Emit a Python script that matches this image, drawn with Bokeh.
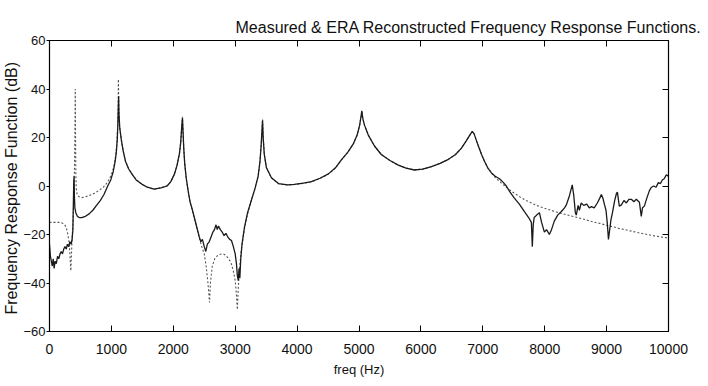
from bokeh.plotting import figure
from bokeh.models import Range1d, LinearAxis, SingleIntervalTicker, CustomJSTickFormatter
from bokeh.embed import file_html
from bokeh.resources import INLINE

# ---------------- data ----------------
freq_meas = [0, 15, 30, 45, 60, 75, 90, 110, 130, 150, 170, 190, 210, 230, 250, 270, 290, 310, 330, 350,
             365, 378, 385, 392, 397, 402, 410, 425, 450, 480, 520, 580, 640, 700, 760, 820, 880, 940, 990,
             1030, 1060, 1080, 1095, 1105, 1112, 1117, 1122, 1135, 1160, 1190, 1230, 1280, 1330, 1400, 1490,
             1580, 1690, 1800, 1900, 1960, 2020, 2060, 2100, 2120, 2135, 2148, 2158, 2170, 2185, 2210, 2240,
             2270, 2300, 2340, 2380, 2420, 2445, 2470, 2500, 2525, 2550, 2580, 2610, 2640, 2665, 2690, 2710,
             2730, 2760, 2790, 2820, 2850, 2880, 2910, 2940, 2970, 3000, 3020, 3035, 3050, 3062, 3075, 3090,
             3110, 3150, 3200, 3260, 3320, 3370, 3400, 3420, 3435, 3442, 3452, 3470, 3505, 3585, 3700, 3850,
             3955, 4100, 4230, 4370, 4505, 4620, 4715, 4820, 4910, 4970, 5010, 5035, 5045, 5060, 5090, 5150,
             5250, 5360, 5500, 5635, 5760, 5895, 6030, 6170, 6310, 6445, 6560, 6655, 6730, 6790, 6830, 6860,
             6900, 6930, 6980, 7025, 7080, 7140, 7200, 7270, 7330, 7380, 7440, 7510, 7590, 7670, 7740, 7785,
             7800, 7815, 7830, 7870, 7915, 7950, 7995, 8030, 8075, 8110, 8155, 8210, 8270, 8320, 8350, 8400,
             8445, 8470, 8495, 8510, 8540, 8560, 8590, 8630, 8680, 8720, 8755, 8800, 8850, 8890, 8915, 8940,
             8965, 8990, 9010, 9030, 9045, 9070, 9095, 9130, 9160, 9175, 9205, 9240, 9280, 9320, 9360, 9400,
             9440, 9480, 9530, 9560, 9580, 9610, 9650, 9690, 9720, 9760, 9800, 9835, 9870, 9900, 9930, 9965,
             10000]
db_meas = [-24, -29, -31, -33, -30, -34, -31, -32, -29, -30, -28, -27, -28, -26, -25, -26, -24, -25, -23, -24,
           -22, -18, -8, 2, 4, -4, -9, -11, -12.5, -13, -13, -12.5, -11.5, -10, -8, -6, -3.5, 0, 2.5,
           6, 10, 14, 19, 26, 33, 37, 30, 24, 19, 14.5, 10, 7, 5, 2.5, 0.8,
           -0.5, -1.3, -0.8, 0, 1.8, 5, 8.5, 13.5, 18, 24, 28, 22, 15, 9, 3, -2,
           -6.5, -9, -13, -17, -21, -23, -22, -25, -27, -24, -23, -21, -19, -18, -16, -18,
           -16.5, -18, -19, -20.5, -19.5, -21, -22, -22.5, -25, -28, -32, -37, -39, -34, -38, -30,
           -24, -17, -11, -6, -1, 4, 10, 17, 24, 27, 20, 13, 7.5, 3.4, 1, 0.5,
           0.7, 1.2, 1.8, 3.2, 5, 7.5, 10.8, 14, 17.5, 21, 25, 29, 31, 28, 25, 21,
           16.5, 13, 10.5, 8.6, 7.4, 6.6, 7, 8, 9.3, 11, 13, 15.6, 18.5, 21, 22.5, 21.5,
           18.5, 16.4, 13, 10.3, 7.5, 5.4, 4, 3, 1.5, 0, -2.5, -5, -7.5, -10.5, -13, -15,
           -25, -16, -13, -12, -11, -15, -19, -18, -20, -18, -14.5, -12, -10.5, -9, -7.8, -4,
           0.5, -4, -11, -12, -8, -10, -7, -8, -7.5, -9, -8.5, -9, -7, -5, -3.5, -5,
           -7.6, -10, -15, -22, -19, -14, -11, -6, -3, -2.6, -8.3, -7.8, -6, -7, -5.5, -5.5,
           -6.5, -5.5, -6.7, -12.5, -9, -8.3, -5, -2, -0.6, 0, -0.5, 1.4, 1, 2.5, 3, 4.6,
           4]

freq_era = [0, 50, 100, 150, 200, 240, 265, 285, 300, 315, 328, 338, 345, 352, 365, 380, 392, 402, 410,
            416, 421, 426, 432, 445, 480, 520, 580, 650, 727, 800, 870, 920, 970, 1010, 1040, 1065, 1085,
            1100, 1108, 1113, 1120, 1130, 1150, 1163, 1190, 1230, 1280, 1330, 1400, 1490, 1580, 1690, 1800,
            1900, 1960, 2020, 2060, 2100, 2120, 2135, 2148, 2158, 2170, 2185, 2210, 2240, 2270, 2300, 2340,
            2380, 2420, 2460, 2500, 2530, 2560, 2585, 2600, 2630, 2670, 2720, 2780, 2830, 2880, 2930, 2970,
            3000, 3020, 3035, 3050, 3070, 3100, 3150, 3200, 3260, 3320, 3370, 3400, 3420, 3435, 3442, 3452,
            3470, 3505, 3585, 3700, 3850, 3955, 4100, 4230, 4370, 4505, 4620, 4715, 4820, 4910, 4970, 5010,
            5035, 5045, 5060, 5090, 5150, 5250, 5360, 5500, 5635, 5760, 5895, 6030, 6170, 6310, 6445, 6560,
            6655, 6730, 6790, 6830, 6860, 6900, 6930, 6980, 7025, 7080, 7140, 7200, 7300, 7400, 7500, 7600,
            7700, 7800, 7900, 8000, 8100, 8200, 8300, 8400, 8500, 8600, 8700, 8800, 8900, 9000, 9100, 9200,
            9300, 9400, 9500, 9600, 9700, 9800, 9900, 10000]
db_era = [-15, -15, -15, -15, -15.2, -15.8, -16.8, -18.5, -20.5, -23, -27, -32, -35, -30, -22, -14, -5, 5, 20,
          40, 20, 5, -1, -3.5, -4.5, -4.8, -4.5, -3.8, -3, -1.8, -0.5, 1, 3, 5.5, 8, 12, 17,
          24, 32, 44, 32, 25, 21, 19, 14.5, 10, 7, 5, 2.6, 0.8, -0.5, -1.3, -0.8,
          0.2, 1.8, 5, 8.5, 13.5, 18, 24, 28.5, 22, 15, 9, 3, -2, -6.5, -9.5, -13.5,
          -17.5, -21.5, -25, -28, -33, -40, -48, -40, -33, -30, -28.5, -28, -28.3, -29.5, -31.5, -35,
          -39, -45, -51, -42, -34, -26, -17.5, -11.5, -6, -1, 4, 10, 17, 24, 27.5, 20,
          13, 7.5, 3.3, 0.9, 0.4, 0.6, 1.1, 1.7, 3.1, 4.9, 7.4, 10.7, 13.9, 17.4, 21, 25,
          29, 31, 28, 25, 21, 16.5, 13, 10.5, 8.6, 7.4, 6.6, 7, 8, 9.3, 11, 13,
          15.6, 18.5, 21, 22.5, 21.5, 18.5, 16.4, 13, 10.3, 7.5, 5.4, 3.5, 1.2, -1, -2.8, -4.5,
          -6, -7.2, -8.3, -9.2, -10, -10.8, -11.5, -12.2, -12.8, -13.5, -14.2, -14.9, -15.5, -16.2, -16.8, -17.5,
          -18, -18.6, -19.2, -19.7, -20.2, -20.7, -21.1, -21.5]

x_ticks_interval = 1000
y_ticks_interval = 20

# ---------------- figure ----------------
FONT = "Liberation Sans"

p = figure(frame_width=619, frame_height=291, output_backend="svg", toolbar_location=None,
           x_range=Range1d(0, 10000), y_range=Range1d(-60, 60),
           min_border_left=40, min_border_right=33, min_border_top=40, min_border_bottom=46,
           x_axis_label="freq (Hz)", y_axis_label="Frequency Response  Function (dB)")

p.title.text = "Measured & ERA Reconstructed Frequency Response Functions."
p.title.align = "left"
p.title.offset = 186
p.title.text_font = FONT
p.title.text_font_style = "normal"
p.title.text_font_size = "16px"
p.title.text_color = "#111111"

p.xgrid.visible = False
p.ygrid.visible = False
p.outline_line_color = "black"
p.outline_line_alpha = 1
p.outline_line_width = 1.2
p.background_fill_color = "white"
p.border_fill_color = "white"

xt = SingleIntervalTicker(interval=x_ticks_interval, num_minor_ticks=0)
yt = SingleIntervalTicker(interval=y_ticks_interval, num_minor_ticks=0)

xa = p.xaxis[0]
xa.ticker = xt
xa.major_tick_in = 6
xa.major_tick_out = 0
xa.minor_tick_in = 0
xa.minor_tick_out = 0
xa.axis_line_color = "black"
xa.major_tick_line_color = "black"
xa.major_label_text_font = FONT
xa.major_label_text_font_size = "14px"
xa.major_label_text_color = "#111111"
xa.major_label_standoff = 12
xa.axis_label_text_font = FONT
xa.axis_label_text_font_size = "13px"
xa.axis_label_text_font_style = "normal"
xa.axis_label_text_color = "#111111"
xa.axis_label_standoff = 5

ya = p.yaxis[0]
ya.ticker = yt
ya.major_tick_in = 0
ya.major_tick_out = 3
ya.minor_tick_in = 0
ya.minor_tick_out = 0
ya.axis_line_color = "black"
ya.major_tick_line_color = "black"
ya.major_label_text_font = FONT
ya.major_label_text_font_size = "13px"
ya.major_label_text_color = "#111111"
ya.major_label_standoff = 1
ya.axis_label_text_font = FONT
ya.axis_label_text_font_size = "16px"
ya.axis_label_text_font_style = "normal"
ya.axis_label_text_color = "#111111"
ya.axis_label_standoff = 0

top_ax = LinearAxis(ticker=SingleIntervalTicker(interval=x_ticks_interval, num_minor_ticks=0),
                    formatter=CustomJSTickFormatter(code="return '';"),
                    major_tick_in=6, major_tick_out=0, minor_tick_in=0, minor_tick_out=0,
                    major_label_text_font_size="1px", major_label_standoff=0,
                    axis_line_color="black", major_tick_line_color="black")
right_ax = LinearAxis(ticker=SingleIntervalTicker(interval=y_ticks_interval, num_minor_ticks=0),
                      formatter=CustomJSTickFormatter(code="return '';"),
                      major_tick_in=6, major_tick_out=0, minor_tick_in=0, minor_tick_out=0,
                      major_label_text_font_size="1px", major_label_standoff=0,
                      axis_line_color="black", major_tick_line_color="black")
p.add_layout(top_ax, "above")
p.add_layout(right_ax, "right")

# ---------------- curves ----------------
p.line(freq_era, db_era, line_color="#555555", line_width=1.1, line_dash="2 2")
p.line(freq_meas, db_meas, line_color="#1a1a1a", line_width=1.3)

open("out.html", "w").write(file_html(p, INLINE))
